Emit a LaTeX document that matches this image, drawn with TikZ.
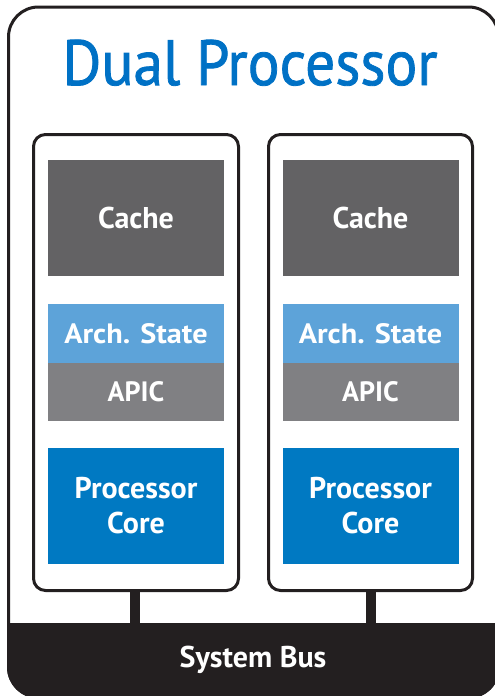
\documentclass[tikz,border=0pt]{standalone}
\usepackage{fontspec}
\setmainfont{PT Sans}
\newfontfamily\titlefont[FakeBold=1.3]{PT Sans}
\definecolor{titleblue}{HTML}{0071C5}
\definecolor{cachegray}{HTML}{636264}
\definecolor{archblue}{HTML}{5DA3D9}
\definecolor{apicgray}{HTML}{808083}
\definecolor{coreblue}{HTML}{0079C2}
\definecolor{busblack}{HTML}{231F20}
\tikzset{
  block/.style={rectangle, inner sep=0pt, text=white, align=center, minimum width=176pt},
  procbox/.style={rectangle, draw=busblack, line width=3pt, rounded corners=12pt, inner sep=0pt},
  stem/.style={draw=busblack, line width=10pt},
  big/.style={font=\fontsize{30}{35}\bfseries\selectfont},
  mid/.style={font=\fontsize{28}{32}\bfseries\selectfont},
}
\begin{document}
\begin{tikzpicture}[x=1pt,y=-1pt]
\useasboundingbox (0,0) rectangle (495,696);
% outer frame
\begin{scope}
  \clip[rounded corners=31.5pt] (7,5.5) rectangle (500,698.5);
  \fill[busblack] (0,623) rectangle (500,700);
\end{scope}
\draw[busblack, line width=3pt, rounded corners=30pt] (8.5,7) rectangle (498.5,697);
\node[text=titleblue, font=\fontsize{64}{70}\titlefont, anchor=base, xscale=0.93] (title) at (250,85) {Dual Processor};
% processor boxes
\node[procbox, minimum width=205pt, minimum height=456pt] (procL) at (136,362.5) {};
\node[procbox, minimum width=204pt, minimum height=456pt] (procR) at (370.5,362.5) {};
% left column
\node[block, fill=cachegray, minimum height=116pt, big] (cacheL) at (136,218) {\raisebox{-1pt}{Cache}};
\node[block, fill=archblue, minimum height=59pt, mid] (archL) at (136,333.5) {\scalebox{1.08}[1]{Arch. State}};
\node[block, fill=apicgray, minimum height=58pt, mid] (apicL) at (136,392) {APIC};
\node[block, fill=coreblue, minimum height=116pt, big] (coreL) at (136,506) {Processor\\Core};
% right column
\node[block, fill=cachegray, minimum height=116pt, big] (cacheR) at (370.5,218) {\raisebox{-1pt}{Cache}};
\node[block, fill=archblue, minimum height=59pt, mid] (archR) at (370.5,333.5) {\scalebox{1.08}[1]{Arch. State}};
\node[block, fill=apicgray, minimum height=58pt, mid] (apicR) at (370.5,392) {APIC};
\node[block, fill=coreblue, minimum height=116pt, big] (coreR) at (370.5,506) {Processor\\Core};
% bus
\node[text=white, font=\fontsize{30}{34}\bfseries\selectfont] (bus) at (253,659.5) {System Bus};
\coordinate (busTopL) at (135,623.5);
\coordinate (busTopR) at (370.5,623.5);
\draw[stem] (procL.south -| busTopL) -- (busTopL);
\draw[stem] (procR.south) -- (busTopR);
\end{tikzpicture}
\end{document}
